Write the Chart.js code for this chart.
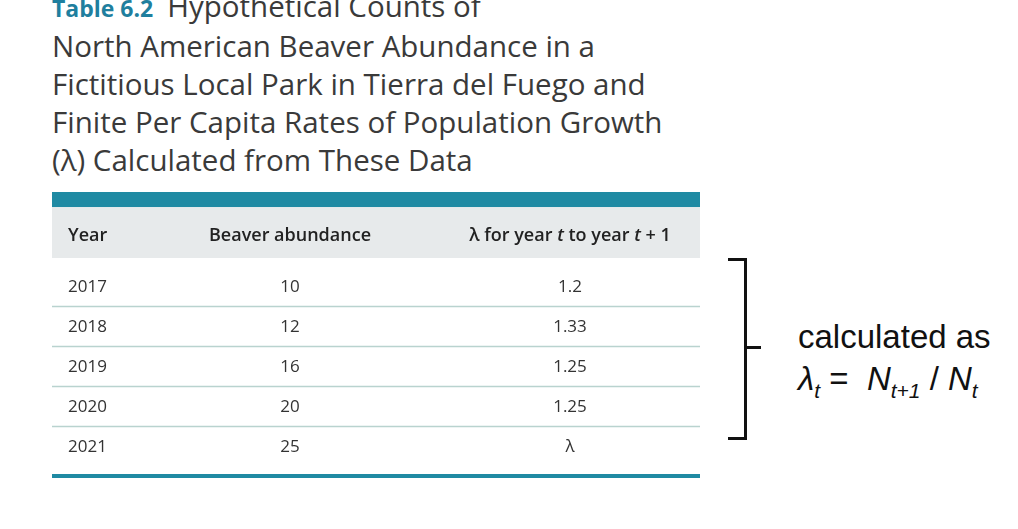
<!DOCTYPE html>
<html>
<head>
<meta charset="utf-8">
<script src="https://cdn.jsdelivr.net/npm/chart.js@4"></script>
<style>
  body { margin:0; background:#fff; width:1018px; height:529px; overflow:hidden; position:relative; font-family:"Open Sans","Noto Sans",sans-serif; }
  #title { position:absolute; left:52px; top:-13px; font-size:29.5px; line-height:38px; color:#3a3a3a; white-space:nowrap; }
  #title b { color:#1f7f9e; font-weight:700; font-size:23px; margin-right:14px; }
  #wrap { position:absolute; left:52px; top:192px; width:648px; height:290px; }
  #bracket { position:absolute; left:728px; top:258px; width:16px; height:176px; border:3px solid #111; border-left:none; }
  #tick { position:absolute; left:745px; top:346px; width:16px; height:3px; background:#111; }
  .note { position:absolute; left:798px; font-family:"Liberation Sans",Arial,sans-serif; font-size:33px; color:#111; white-space:nowrap; }
  .note sub { font-size:21px; }
</style>
</head>
<body>
<div id="title"><b>Table 6.2</b>Hypothetical Counts of<br>North American Beaver Abundance in a<br>Fictitious Local Park in Tierra del Fuego and<br>Finite Per Capita Rates of Population Growth<br>(λ) Calculated from These Data</div>
<div id="wrap"><canvas id="tbl"></canvas></div>
<div id="bracket"></div><div id="tick"></div>
<div class="note" style="top:318px">calculated as</div>
<div class="note" style="top:360px"><i>λ<sub>t</sub></i> = &nbsp;<i>N<sub>t+1</sub></i> / <i>N<sub>t</sub></i></div>
<script>
const headers = ['Year', 'Beaver abundance', 'λ for year t to year t + 1'];
const years = ['2017', '2018', '2019', '2020', '2021'];
const abundance = ['10', '12', '16', '20', '25'];
const lambdas = ['1.2', '1.33', '1.25', '1.25', 'λ'];

const colX = [16, 238, 518];
const colAlign = ['left', 'center', 'center'];
const rowY = i => 2.37 + i;

const columns = [years, abundance, lambdas];
const datasets = columns.map((col, c) => ({
  data: col.map((v, i) => ({ x: colX[c], y: rowY(i) })),
  labelsText: col,
  pointRadius: 0
}));
datasets.push({ data: headers.map((h, c) => ({ x: colX[c], y: 1.1 })), labelsText: headers, header: true, pointRadius: 0 });

function drawHeader(ctx, text, x, y) {
  // italic t in the lambda header
  if (text.indexOf(' t ') < 0) { ctx.fillText(text, x, y); return; }
  const parts = text.split(/( t )/);
  const normal = '600 18px "Open Sans"', ital = 'italic 600 18px "Open Sans"';
  let total = 0;
  parts.forEach(p => { ctx.font = p === ' t ' ? ital : normal; total += ctx.measureText(p).width; });
  let cx = x - total / 2;
  ctx.textAlign = 'left';
  parts.forEach(p => { ctx.font = p === ' t ' ? ital : normal; ctx.fillText(p, cx, y); cx += ctx.measureText(p).width; });
}

const tablePlugin = {
  id: 'tablePlugin',
  beforeDatasetsDraw(chart) {
    const ctx = chart.ctx, y = chart.scales.y, a = chart.chartArea;
    ctx.save();
    ctx.fillStyle = '#1f8aa3';
    ctx.fillRect(a.left, y.getPixelForValue(0), a.width, y.getPixelForValue(0.38) - y.getPixelForValue(0));
    ctx.fillStyle = '#e7eaeb';
    ctx.fillRect(a.left, y.getPixelForValue(0.38), a.width, y.getPixelForValue(1.65) - y.getPixelForValue(0.38));
    ctx.strokeStyle = '#b9d3cf'; ctx.lineWidth = 1.5;
    for (let i = 1; i < years.length; i++) {
      const py = Math.round(y.getPixelForValue(1.85 + i)) + 0.5;
      ctx.beginPath(); ctx.moveTo(a.left, py); ctx.lineTo(a.right, py); ctx.stroke();
    }
    ctx.fillStyle = '#1f8aa3';
    ctx.fillRect(a.left, y.getPixelForValue(7.05), a.width, 4);
    ctx.restore();
  },
  afterDatasetsDraw(chart) {
    const ctx = chart.ctx;
    ctx.save();
    ctx.textBaseline = 'middle';
    chart.data.datasets.forEach((ds, d) => {
      chart.getDatasetMeta(d).data.forEach((pt, i) => {
        const c = ds.header ? i : d;
        ctx.textAlign = colAlign[c];
        if (ds.header) {
          ctx.font = '600 18px "Open Sans"';
          ctx.fillStyle = '#222';
          drawHeader(ctx, ds.labelsText[i], pt.x, pt.y);
        } else {
          ctx.font = '17px "Open Sans"';
          ctx.fillStyle = '#333';
          ctx.fillText(ds.labelsText[i], pt.x, pt.y);
        }
      });
    });
    ctx.restore();
  }
};

new Chart(document.getElementById('tbl'), {
  type: 'scatter',
  data: { datasets },
  plugins: [tablePlugin],
  options: {
    responsive: true, maintainAspectRatio: false, animation: false,
    layout: { padding: 0 },
    plugins: { legend: { display: false }, tooltip: { enabled: false } },
    scales: {
      x: { type: 'linear', min: 0, max: 648, display: false },
      y: { type: 'linear', min: 0, max: 7.25, reverse: true, display: false }
    }
  }
});
</script>
</body>
</html>
